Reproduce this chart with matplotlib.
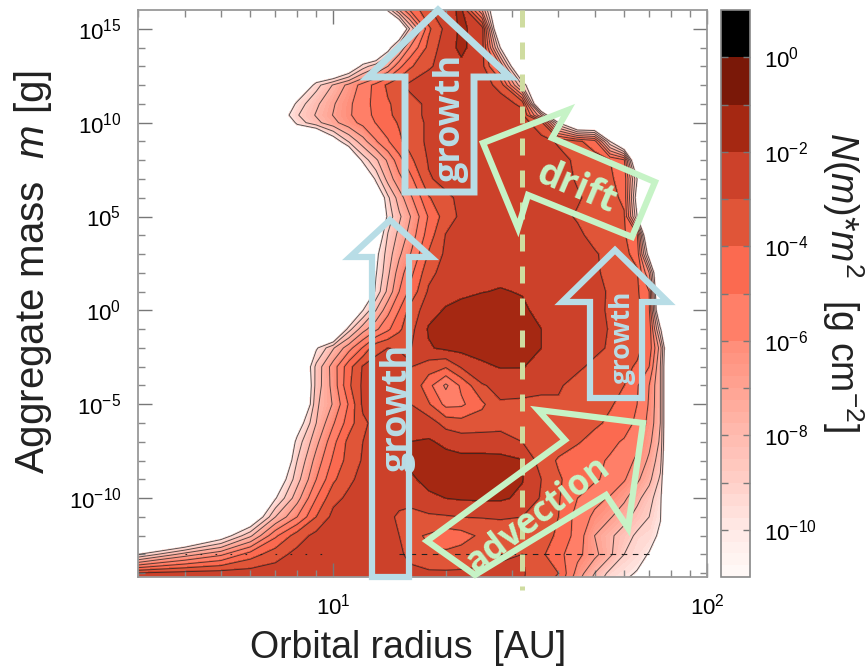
import numpy as np
import matplotlib
matplotlib.use('Agg')
import matplotlib.pyplot as plt
from matplotlib.cm import ScalarMappable
from matplotlib.colors import BoundaryNorm, LinearSegmentedColormap, ListedColormap
from matplotlib.patches import Polygon

plt.rcParams['font.family'] = ['Liberation Sans', 'DejaVu Sans']
plt.rcParams['mathtext.fontset'] = 'custom'
plt.rcParams['mathtext.rm'] = 'Liberation Sans'
plt.rcParams['mathtext.it'] = 'Liberation Sans:italic'

# orbital radius [AU], log10 of aggregate mass [g]
radius = [3, 4, 5, 6, 7, 8, 9, 10, 11, 12, 13, 14, 15, 16, 18, 20, 22, 25, 28, 32, 36,
          40, 45, 50, 55, 60, 65, 70, 75, 80, 100]
log_mass = [16, 15, 14, 13, 12, 11, 10.4, 10, 9, 8, 7, 6, 5, 4, 3, 2, 1, 0, -1, -2, -3, -4,
            -5, -6, -7, -8, -9, -10, -11, -12, -13, -14, -14.2]

# log10 of N(m)*m^2, one row per log_mass, -14 = empty
log_n = [
    [-14.0]*11 + [-9.8, -7, -5, -3.1, -2.4, -1.8, -7],
    [-14.0]*12 + [-13, -9, -4.2, -2.7, -1.8, -2.5],
    [-14.0]*11 + [-10.8, -8, -6, -3.7, -2.4, -1.8, -2.6, -10.1],
    [-14.0]*8 + [-12, -9.5, -8.3, -7, -5.3, -4.2, -3.1, -2.7, -2.2, -2.7, -6],
    [-14.0]*5 + [-13, -9.4, -7.9, -6.7, -5.6, -4.7, -3.8, -3.2, -2.8, -2.6, -2.6, -2.5, -2.6, -3.3, -9],
    [-14.0]*5 + [-9.6, -8.2, -7.1, -6.2, -5.4, -4.7, -4.1, -3.7, -3.35, -2.8, -2.6, -2.5, -2.5, -2.6, -3.2],
    [-14.0]*4 + [-11.5, -9.1, -7.9, -6.95, -6.15, -5.4, -4.8, -4.2, -3.7, -3.35, -2.8, -2.6, -2.5, -2.5, -2.5, -2.7, -8],
    [-14.0]*5 + [-9.6, -8.3, -7.3, -6.4, -5.7, -4.95, -4.4, -3.9, -3.45, -2.85, -2.6, -2.5, -2.5, -2.5, -2.6, -3.6, -10],
    [-14.0]*7 + [-11, -8.9, -7.4, -6.1, -5.1, -4.2, -3.6, -2.8, -2.6, -2.5, -2.5, -2.5, -2.5, -2.7, -3.1, -3.8, -4.5, -10],
    [-14.0]*8 + [-13, -9.6, -8.2, -6.8, -5.4, -4.3, -2.9, -2.6, -2.5, -2.5, -2.5, -2.5, -2.6, -2.75, -3.15, -3.6, -4, -4.8],
    [-14.0]*9 + [-13, -9.7, -7.6, -6.3, -5.4, -3.1, -2.7, -2.5, -2.5, -2.5, -2.5, -2.5, -2.6, -3.1, -3.5, -3.9, -4.3, -10],
    [-14.0]*10 + [-12, -9.2, -7.5, -6.3, -4.1, -3.2, -2.8, -2.5, -2.5, -2.5, -2.5, -2.5, -2.9, -3.3, -3.7, -4.2, -11],
    [-14.0]*11 + [-9.6, -8.2, -7.1, -4.9, -3.5, -2.8, -2.5, -2.5, -2.5, -2.5, -2.7, -3.1, -3.4, -3.6, -3.9, -10],
    [-14.0]*10 + [-11.5, -8.9, -7.7, -6.7, -4.5, -2.95, -2.6, -2.5, -2.5, -2.5, -2.5, -2.5, -2.8, -3.3, -3.6, -3.9, -4.8],
    [-14.0]*10 + [-10.4, -8.5, -7.2, -6.1, -3.9, -2.8, -2.5, -2.4, -2.4, -2.4, -2.45, -2.5, -2.6, -2.9, -3.3, -3.8, -4.3, -11],
    [-14.0]*10 + [-10.1, -8.2, -6.5, -5.4, -3.3, -2.6, -2.3, -2.2, -2.2, -2.25, -2.4, -2.5, -2.6, -2.85, -3.25, -3.6, -3.9, -7],
    [-14.0]*9 + [-13, -9.7, -7.7, -6, -4.8, -2.85, -2.4, -2.2, -2.03, -1.95, -2.05, -2.3, -2.45, -2.55, -2.75, -3.1, -3.5, -3.85, -5],
    [-14.0]*9 + [-10, -8, -6.3, -5, -3.7, -2.4, -1.9, -1.7, -1.6, -1.6, -1.85, -2.25, -2.4, -2.5, -2.8, -3.1, -3.4, -3.7, -4.8, -13],
    [-14.0]*8 + [-9.4, -7.4, -6.2, -5.2, -4.2, -3.4, -1.9, -1.7, -1.6, -1.55, -1.55, -1.7, -2, -2.3, -2.5, -2.75, -3.05, -3.35, -3.7, -4.3, -9.8],
    [-14.0]*6 + [-10.2, -8.1, -6.4, -4.9, -3.3, -3, -3.05, -3.1, -2.1, -1.8, -1.7, -1.6, -1.6, -1.7, -2, -2.4, -2.55, -2.8, -3.1, -3.4, -3.8, -4.4, -7.5],
    [-14.0]*5 + [-13, -8.7, -6.5, -4.4, -2.9, -2.6, -2.6, -2.75, -2.95, -3.5, -3.9, -2.9, -2.2, -1.95, -1.95, -2.35, -2.6, -2.85, -3.2, -3.6, -3.8, -4.1, -5, -8],
    [-14.0]*6 + [-8.6, -6.6, -4.2, -2.8, -2.6, -2.5, -2.6, -3, -4.7, -6.2, -4.8, -3.1, -2.7, -2.8, -2.85, -2.9, -3.3, -3.5, -3.75, -4, -4.9, -6, -8],
    [-14.0]*6 + [-8.2, -6.9, -4.9, -2.8, -2.6, -2.5, -2.6, -2.95, -3.9, -5.3, -5.2, -4.2, -3.1, -3.1, -3.15, -3.1, -3.4, -3.6, -3.9, -4.3, -5, -6.1, -8],
    [-14.0]*5 + [-11, -8, -6.1, -4.5, -3.2, -2.7, -2.5, -2.4, -2.2, -2.5, -3.4, -3.6, -3.5, -3.4, -3.3, -3.3, -3.4, -3.6, -3.8, -4.2, -4.6, -5.2, -6.3, -8],
    [-14.0]*5 + [-9.6, -7.3, -5.3, -3.7, -3, -2.7, -2.5, -2.3, -2, -1.9, -2.2, -2.5, -2.5, -2.5, -3, -3.5, -3.6, -3.9, -4.4, -4.8, -5.1, -5.7, -6.7, -8.2],
    [-14.0]*4 + [-13, -9, -6.6, -4.8, -3.6, -2.9, -2.6, -2.4, -2.1, -1.9, -1.75, -1.7, -1.7, -1.7, -1.75, -1.95, -3.5, -4.1, -4.6, -4.8, -5.1, -5.5, -6.2, -7.2, -8.6],
    [-14.0]*4 + [-11.5, -8.4, -6, -4.2, -3.2, -2.7, -2.5, -2.4, -2.2, -2.1, -1.85, -1.7, -1.65, -1.7, -1.8, -1.95, -3, -3.9, -4.4, -4.85, -5.3, -5.9, -6.8, -7.7, -9.2],
    [-14.0]*4 + [-10.1, -7.4, -5, -3.3, -2.8, -2.6, -2.5, -2.6, -2.4, -2.3, -2.1, -2, -1.9, -1.85, -1.85, -2.2, -3.1, -3.9, -5, -5.7, -6.1, -6.8, -7.7, -8.6, -9.7],
    [-14.0]*3 + [-12, -8, -6, -4, -2.7, -2.6, -2.5, -2.5, -2.6, -3.3, -3.7, -3.2, -3.1, -3, -2.95, -2.95, -3, -3.4, -4, -5.4, -6.2, -6.9, -7.6, -8.4, -9, -9.9],
    [-14.0]*2 + [-11, -8.2, -5.2, -3.5, -2.7, -2.6, -2.5, -2.5, -2.5, -2.6, -3, -3.8, -4.1, -4.6, -4.4, -3.8, -3.3, -3.05, -3.5, -4.2, -5.4, -7, -7.8, -8.5, -9.2, -9.4, -10.3],
    [-10, -7.5, -6.2, -4.5, -3.4, -2.7, -2.5, -2.5, -2.5, -2.5, -2.5, -2.5, -2.7, -3.4, -3.9, -3.8, -3.6, -3.3, -3.1, -3, -3.8, -4.7, -5.7, -6.7, -7.8, -9, -9.5, -10.1],
    [-2.9, -2.6] + [-2.5]*11 + [-2.6, -2.8, -2.85, -2.85, -2.85, -2.85, -2.9, -3.5, -4, -6.4, -8, -9.3, -9.7, -10.1],
    [-2.7, -2.5] + [-2.5]*11 + [-2.6, -2.8, -2.85, -2.85, -2.85, -2.85, -2.9, -3.6, -4.1, -6.6, -8.2, -9.5, -9.8, -10.3],
]

cbar_ticks = [-10, -8, -6, -4, -2, 0]
snow_line = 32

# pad the outer side of every row with empty cells
Z = np.array([r + [-14.0]*(len(radius) - len(r)) for r in log_n])[::-1]
X = np.log10(radius)
Y = np.array(log_mass)[::-1]

pale = LinearSegmentedColormap.from_list('pale', ['#fff8f6', '#ffe8e4', '#ffcfc7', '#ffbbb0', '#ffa595', '#ff8f7b'])
edges = np.concatenate([np.arange(-11, -6, 0.25), np.arange(-6, 2)])
colors = [pale(i/19) for i in range(20)] + ['#ff7f68', '#fb6a50', '#e05538', '#cc412a', '#a52812', '#7a1808', '#000000']
cmap = ListedColormap(colors)
norm = BoundaryNorm(edges, cmap.N)

W, H = 865, 666
fig = plt.figure(figsize=(W/100, H/100), dpi=100)
ax = fig.add_axes([138/W, 1-577/H, 569/W, 567/H])
cax = fig.add_axes([721/W, 1-577/H, 29/W, 567/H])

# nothing is filled below the outermost contour, the background stays white
cf = ax.contourf(X, Y, Z, levels=edges[edges >= -10], cmap=cmap, norm=norm)
cf.set_edgecolor('face')
ax.contour(X, Y, Z, levels=np.arange(-10, 0), colors='#222222', linewidths=0.7, alpha=0.75, linestyles='solid')

# stray horizontal dashes near the bottom of the original
ax.plot(np.log10([15, 72]), [-12.95, -12.95], color='#222222', lw=0.8, dashes=(5, 5))
ax.plot(np.log10([4, 9.5]), [-12.95, -12.95], color='#222222', lw=0.8, dashes=(1.5, 12))

# snow line
ax.plot(np.log10([snow_line, snow_line]), [16, -14.9], color='#cfdca0', lw=3.6, dashes=(3.4, 3), clip_on=False, zorder=4)

ax.set_xlim(np.log10(3), 2)
ax.set_ylim(-14.2, 16)
ax.set_xticks([1, 2])
ax.set_xticklabels(['$\\mathregular{10^{1}}$', '$\\mathregular{10^{2}}$'])
ax.set_xticks(np.log10([3, 4, 5, 6, 7, 8, 9, 20, 30, 40, 50, 60, 70, 80, 90]), minor=True)
ax.set_yticks([-10, -5, 0, 5, 10, 15])
ax.set_yticklabels(['$\\mathregular{10^{%d}}$' % v for v in [-10, -5, 0, 5, 10, 15]])
ax.set_yticks(np.arange(-14, 16), minor=True)
ax.tick_params(which='major', direction='in', length=10, width=1, color='#777777', top=True, right=True, labelsize=16, pad=12)
ax.tick_params(which='minor', direction='in', length=5, width=1, color='#888888', top=True, right=True)
for s in ax.spines.values():
    s.set_color('#999999')
    s.set_linewidth(1.3)

cb = fig.colorbar(ScalarMappable(norm=norm, cmap=cmap), cax=cax, spacing='proportional', ticks=np.arange(-10, 1))
cb.set_ticklabels(['$\\mathregular{10^{%d}}$' % v if v in cbar_ticks else '' for v in range(-10, 1)])
cb.ax.minorticks_off()
cax.tick_params(direction='in', length=5, width=1, color='#777777', left=True, right=True, labelsize=16, pad=10)
cb.outline.set_edgecolor('#888888')
cb.outline.set_linewidth(1.2)

# overlay in pixel coordinates for labels and the hand drawn arrows
ov = fig.add_axes([0, 0, 1, 1], zorder=5)
ov.set_xlim(0, W)
ov.set_ylim(H, 0)
ov.axis('off')

blue = '#b8dde6'
green = '#c6f3c6'
ov.add_patch(Polygon([(438, 10), (510, 77), (474, 77), (474, 192), (405, 192), (405, 77), (368, 77)],
                     fill=False, ec=blue, lw=5, joinstyle='miter'))
ov.add_patch(Polygon([(390, 220), (431, 257), (409, 257), (409, 577), (372, 577), (372, 257), (350, 257)],
                     fill=False, ec=blue, lw=4.5, joinstyle='miter'))
ov.add_patch(Polygon([(615, 250), (668, 302), (642, 302), (642, 398), (590, 398), (590, 302), (562, 302)],
                     fill=False, ec=blue, lw=4.5, joinstyle='miter'))
ov.add_patch(Polygon([(483, 143), (568, 110), (552, 138), (655, 182), (632, 237), (528, 195), (518, 228)],
                     fill=False, ec=green, lw=4.5, joinstyle='miter'))
ov.add_patch(Polygon([(538, 410), (643, 423), (628, 528), (606, 495), (475, 575), (427, 541), (565, 440)],
                     fill=False, ec=green, lw=4.5, joinstyle='miter'))

txt = ['Open Sans', 'DejaVu Sans']
ov.text(451, 118, 'growth', color=blue, fontsize=26, family=txt, fontweight='bold', rotation=90, ha='center', va='center')
ov.text(398, 408, 'growth', color=blue, fontsize=26, family=txt, fontweight='bold', rotation=90, ha='center', va='center')
ov.text(622, 337, 'growth', color=blue, fontsize=19, family=txt, fontweight='bold', rotation=90, ha='center', va='center')
ov.text(576, 188, 'drift', color=green, fontsize=27, family=txt, fontweight='bold', rotation=-23, rotation_mode='anchor', ha='center', va='center')
ov.text(538, 515, 'advection', color=green, fontsize=25, family=txt, fontweight='bold', rotation=37, rotation_mode='anchor', ha='center', va='center')

ov.text(408, 648, 'Orbital radius  [AU]', fontsize=27, ha='center', va='center', color='#222222')
ov.text(33, 272, 'Aggregate mass  $m$ [g]', fontsize=29, rotation=90, ha='center', va='center', color='#222222')
ov.text(843, 282, '$N(m)$*$m^{2}$  [g cm$^{-2}$]', fontsize=27, rotation=270, ha='center', va='center', color='#222222')

fig.savefig('out.png', dpi=100)
